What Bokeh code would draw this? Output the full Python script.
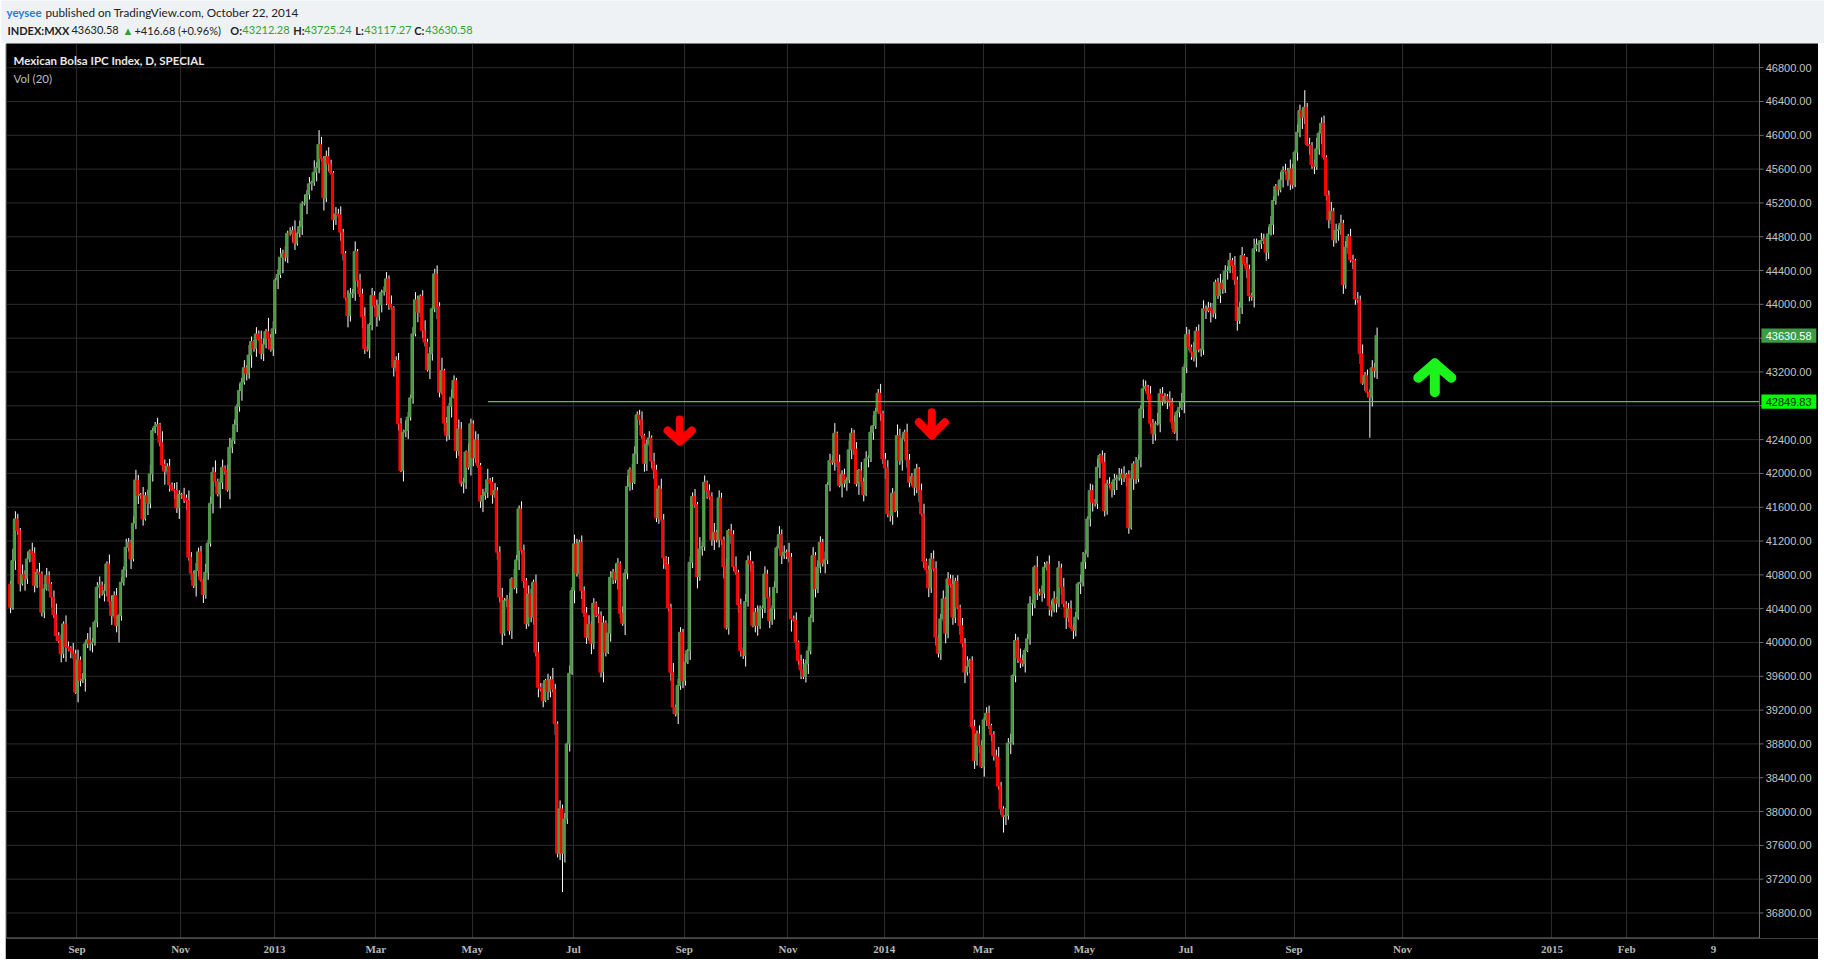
from bokeh.plotting import figure
from bokeh.models import FixedTicker, Label, Range1d, ColumnDataSource
from bokeh.layouts import column
from bokeh.embed import file_html
from bokeh.resources import INLINE
from bokeh.core.properties import value

# ---------------- data ----------------
# daily closes, Jul 2012 .. Oct 22 2014 (INDEX:MXX); each body opens at the previous close
closes = [
    40417, 40969, 41462, 41324, 40693, 40803, 40752, 40989, 41080, 41056, 40673, 40831, 40811, 40358, 40634, 40792,
    40693, 40535, 40330, 40082, 40023, 39865, 40220, 39952, 39936, 39904, 39865, 39412, 39794, 39550, 39569, 39983,
    40031, 39983, 40003, 40240, 40654, 40681, 40575, 40614, 40930, 40488, 40318, 40555, 40200, 40318, 40713, 40859,
    41127, 41186, 40989, 41411, 41923, 41738, 41750, 41462, 41738, 41647, 41994, 42507, 42558, 42578, 42369, 42105,
    42026, 42081, 41864, 41817, 41797, 41592, 41750, 41750, 41710, 41679, 41009, 40819, 40673, 40851, 41072, 40740,
    40567, 40831, 41174, 41647, 42014, 41907, 41758, 41896, 42073, 42034, 41805, 42310, 42389, 42578, 42791, 42980,
    43080, 43250, 43180, 43400, 43560, 43480, 43650, 43590, 43420, 43530, 43680, 43600, 43470,
    43711, 44290, 44353, 44558, 44606, 44558, 44842, 44834, 44874, 44724, 44842, 44921, 45189, 45197, 45300, 45426,
    45442, 45564, 45620, 45891, 45722, 45260, 45749, 45662, 45556, 45000, 45071, 45059, 44854, 44600, 44077, 43868,
    44125, 44132, 44625, 44282, 44125, 43857, 43474, 43462, 43762, 44105, 43987, 43857, 43995, 44144, 44152, 44302,
    44006, 43959, 43257, 43336, 42587, 42035, 42488, 42508, 42666, 42894, 43651, 44054, 43908, 44097, 43691, 43553,
    43226, 43415, 43947, 44361, 43975, 42961, 43218, 42595, 42449, 42792, 42902, 43100, 42271, 42528, 41885, 41897,
    42252, 42074, 42587, 42185, 42398, 42094, 41672, 41739, 41779, 41925, 41897, 41751, 41798, 41068,
    40536, 40110, 40496, 40510, 40141, 40752, 40650, 40977, 41580, 41088, 40733, 40220, 40575, 40300, 40713, 39885,
    39471, 39450, 39313, 39550, 39420, 39560,
    39451, 39037, 37507, 38032, 37507, 37913, 38800, 39636, 40614, 41166, 40819, 41186, 40614, 40350, 40062, 40212,
    39991, 40464, 40330, 40318, 39648, 40232, 39885, 40110, 40772, 40831, 40740, 40938, 40346, 40228, 40819, 41844,
    42042, 41896, 42231, 42692, 42633, 42450, 42120, 42349, 42420, 42144, 42042, 41474, 41817, 41450, 41001, 40922,
    40409, 39648, 39234, 39155, 39490, 40121, 39550, 39766, 39904, 40949, 41726, 41632, 40780, 41107, 41135, 41896,
    41800, 41726, 41214, 41304, 41214, 41710, 41214, 40898, 40173, 41324, 41277, 40898, 40831, 40449, 39904, 39845,
    40484, 40969, 40930, 40200, 40358, 40200, 40397, 40409, 40811, 40535, 40259, 40400, 40654, 41119, 41277, 41028,
    41068, 41068, 41009, 40279, 40267, 40003, 39786, 39676, 39597, 39747, 39900, 40299, 41028, 40634, 40890, 41186,
    40938, 40977, 41868, 42152, 42132, 42475, 42132, 41856,
    41987, 41884, 41924, 42279, 42476, 42290, 41876, 42034, 41900, 41750, 42172, 42184, 42488, 42566, 42736, 42949,
    42712, 42172, 42066, 41522, 41502, 41766, 41561, 42448, 42152, 42409, 42488, 42160, 41896, 41963, 41837, 42054,
    41800, 41522, 40962, 40859, 40646, 40989, 40871, 40063, 39873, 40279, 40516, 40110, 40753, 40686, 40299, 40725,
    40417, 40200, 39992, 39649, 39716, 39787, 39006, 38604, 38919, 38781, 38533, 39085, 39164, 39018, 38911, 38663,
    38643, 38300, 38032, 37941, 37953, 38809, 38820, 39609, 40023, 39818, 39787, 39755, 39905, 40043, 40457, 40457,
    40891, 40583, 40595, 40583, 40891, 40930, 40437, 40386, 40516, 40465, 40883, 40654, 40457, 40299, 40398, 40181,
    40141, 40300, 40693, 40713, 40950, 41048, 41462, 41798, 41659, 41640, 42074, 42212, 42133, 41561, 41876,
    41869, 41806, 41924, 41944, 41944, 41995, 41948, 41987, 41356, 41936, 42114, 41936, 42161, 42764, 43001, 43028,
    42942, 42595, 42468, 42587, 42587, 42942, 42863, 42910, 42871, 42843, 42607, 42488, 42725, 42780, 42843, 43257,
    43643, 43494, 43434, 43375, 43683, 43462, 43462, 43947, 43927, 43959, 43927, 43896, 44263, 44105, 44251, 44184,
    44393, 44400, 44519, 44460, 44290, 43809, 43967, 44578, 44479, 44420, 44105, 44093, 44657, 44708, 44716, 44755,
    44775, 44617, 44834, 44945, 45229, 45394, 45355, 45473, 45583, 45575, 45473, 45603, 45418, 45800, 46037, 46293,
    46214, 46333, 45891, 45879, 45654, 45631, 45840, 46025, 46143, 45741, 45288, 45000, 45102, 44763, 44874, 44882,
    44960, 44235, 44677, 44803, 44527, 44519, 44065, 44054, 43415, 43068, 43159, 42961, 42902, 43249, 43213.90, 43630.58,
]
first_open = 40690.0
last_ohlc = (43212.28, 43725.24, 43117.27, 43630.58)   # header O/H/L/C of the last bar

# wick lengths above / below the body, in tens of index points
wick_up_tens = [
    4,14,9,6,3,12,5,8,2,10,7,4,11,3,6,9,5,2,8,13,4,7,3,10,
    6,2,9,5,12,4,7,3,8,15,5,2,6,10,4,8,3,11,7,5,9,2,6,4,
    10,5,3,8,12,6,2,9,4,7,11,3,5,8,2,13,6,4,9,3,7,10,5,2,
    8,4,12,6,3,9,5,7,2,10,4,8,6,14,3,5,9,2,7,11,4,6,3,8,
    5,9,3,12,6,2,8,4,10,7,3,16,5,9,2,6,11,4,8,3,7,5,12,2,
    7,3,10,5,8,2,14,6,17,9,3,7,11,5,2,8,6,10,4,3,9,7,5,12,
    3,8,6,11,4,2,9,5,7,13,3,6,8,4,10,2,5,9,7,3,12,6,4,8,
    9,5,2,7,12,4,8,3,6,10,5,15,2,7,4,9,6,3,11,8,5,2,10,6,
    4,10,7,3,8,5,13,2,6,9,4,7,11,3,5,8,2,12,6,4,9,7,3,10,
    6,3,9,12,5,7,2,8,4,14,6,3,10,5,7,2,9,4,11,6,3,8,5,7,
    11,4,6,2,9,5,8,3,12,7,4,10,6,2,8,5,13,3,7,9,4,6,10,2,
    5,8,3,10,6,4,12,7,2,9,5,11,3,8,6,4,10,2,7,5,9,3,14,6,
    8,2,7,5,11,3,9,6,4,10,2,8,5,12,3,7,4,9,6,11,3,5,8,4,
    3,9,5,12,4,7,2,10,6,8,3,11,5,4,9,2,7,13,5,6,3,10,4,8,
    7,4,10,3,8,6,12,2,9,5,7,3,11,6,4,8,2,10,5,9,3,7,12,4,
    5,11,3,7,9,4,6,2,13,8,5,3,10,7,4,9,6,2,8,12,3,5,7,10,
    9,3,6,10,2,8,5,11,4,7,3,9,6,12,2,5,8,4,10,6,3,7,9,2,
    4,7,12,5,3,9,6,10,2,8,4,11,7,3,6,9,5,2,13,4,8,6,3,10,
    6,9,2,8,5,11,3,7,10,4,6,2,9,12,5,3,8,7,4,10,2,6,11,5,
    8,3,7,4,12,6,9,2,5,10,3,8,6,4,11,7,2,9,5,3,13,6,8,4,
    3,10,5,8,2,7,11,4,9,6,3,12,5,8,2,10,4,7,6,9,3,5,11,4,
    7,5,9,3,11,4,6,10,2,8,5,3,12,7,4,9,6,2,8,10,5,3,7,9,
    5,8,4,11,6,2,9,7,3,20,5,8,4,6,13,3,7,9,2,6,11,4,8,5,
    10,4,7,3,9,6,2,8,5,11,4,7,3,9,6,12,2,5,8,4,10,6,3,7,
]
wick_dn_tens = [
    7,3,11,5,9,2,14,6,4,10,8,3,16,5,7,2,9,12,4,6,3,10,5,18,
    4,9,6,2,12,7,3,15,5,8,10,4,6,13,2,9,7,5,11,3,8,20,6,4,
    9,5,12,3,7,10,4,8,2,14,6,9,3,11,5,7,16,4,8,2,10,6,13,5,
    6,11,4,8,3,13,7,2,10,5,9,4,12,6,3,17,8,5,2,11,7,4,9,6,
    12,3,8,6,15,4,10,2,7,9,5,13,3,8,6,11,4,19,5,7,2,10,8,3,
    5,10,2,13,6,8,4,11,7,3,15,5,9,2,12,6,4,10,8,3,14,7,5,9,
    8,4,14,6,2,10,7,3,12,5,9,4,16,7,3,11,5,8,2,13,6,10,4,7,
    3,12,6,9,5,2,11,8,4,15,6,3,10,7,5,13,2,9,6,4,12,8,3,10,
    10,6,3,8,13,5,7,2,11,4,9,6,14,3,8,5,10,2,7,12,4,9,6,3,
    6,9,5,12,3,8,2,10,7,4,13,5,8,46,11,6,9,2,15,4,7,10,5,8,
    4,13,7,3,9,6,12,5,2,10,8,4,11,6,3,14,7,5,9,2,12,6,4,10,
    9,3,8,11,5,7,2,13,6,4,10,8,3,12,5,9,6,2,11,7,4,14,5,8,
    5,10,4,7,12,3,9,6,14,2,8,11,5,3,10,7,4,13,6,9,2,8,12,4,
    11,6,2,9,5,13,7,3,10,4,8,6,15,2,9,5,11,3,7,12,4,6,10,5,
    7,4,12,5,8,3,10,6,2,14,5,9,4,11,7,3,13,6,8,2,10,5,9,4,
    3,9,6,13,4,7,11,2,8,5,12,3,9,6,4,10,7,14,2,8,5,11,6,3,
    10,5,8,3,12,6,4,9,7,2,11,5,13,4,8,3,10,6,9,2,12,7,4,8,
    6,12,4,7,19,10,5,13,3,8,6,9,4,11,2,7,14,5,8,3,10,6,4,12,
    8,3,11,5,9,4,14,6,2,10,7,3,12,5,8,4,9,11,3,6,13,2,7,5,
    4,9,6,12,3,8,5,10,7,2,13,6,4,9,11,3,7,5,12,8,2,10,6,4,
    11,5,8,2,10,6,3,13,7,4,9,5,12,3,8,6,10,2,14,5,7,4,9,6,
    5,10,3,9,6,12,4,8,2,11,7,5,13,3,9,6,4,10,8,2,12,5,7,3,
    9,4,7,12,5,3,10,6,14,8,2,11,5,9,4,7,13,3,6,10,5,8,4,12,
    6,11,5,8,3,10,7,4,12,2,9,6,48,11,8,5,14,4,7,9,6,2,10,5,
]

# time axis: bar index of the first bar of each labelled month
tick_bars = [28, 71, 110, 152, 192, 234, 280, 323, 363, 404, 446, 488, 533, 578, 640, 671, 707]
tick_labels = ["Sep", "Nov", "2013", "Mar", "May", "Jul", "Sep", "Nov", "2014",
               "Mar", "May", "Jul", "Sep", "Nov", "2015", "Feb", "9"]

price_ticks = list(range(36800, 47200, 400))
level_price = 42849.83          # horizontal support line
level_start_bar = 198.5
last_price = 43630.58

# drawn arrows: (centre bar, tail price, tip price, half width in bars, arm-end price)
down_arrows = [(278.1, 42637, 42377, 5.05, 42507), (382.7, 42724, 42448, 5.4, 42606)]
up_arrows = [(591.4, 42960, 43300, 6.85, 43131)]

# ---------------- derived OHLC ----------------
n = len(closes)
opens = [first_open] + closes[:-1]
opens[-1] = last_ohlc[0]
wu = wick_up_tens[:n]
wd = wick_dn_tens[:n]
tops = [max(o, c) for o, c in zip(opens, closes)]
bots = [min(o, c) for o, c in zip(opens, closes)]
highs = [t + 10 * u for t, u in zip(tops, wu)]
lows = [b - 10 * d for b, d in zip(bots, wd)]
highs[-1] = last_ohlc[1]
lows[-1] = last_ohlc[2]
colors = ["#4e9a47" if c >= o else "#ff0000" for o, c in zip(opens, closes)]
xs = list(range(n))

src = ColumnDataSource(dict(x=xs, xw=[x + 0.45 for x in xs], top=tops, bottom=bots,
                            high=highs, low=lows, color=colors))

BG = "#eff2f5"
FONT = "Lato"
AXFONT = "Liberation Sans"

# ---------------- header ----------------
HW, HH = 1824, 43
hdr = figure(width=HW, height=HH, x_range=Range1d(0, HW), y_range=Range1d(0, HH),
             output_backend="svg", toolbar_location=None, min_border=0,
             background_fill_color=BG, border_fill_color=BG, outline_line_color=None)
hdr.axis.visible = False
hdr.grid.visible = False

def htext(x, y, t, color="#222222", bold=False, size="11px"):
    hdr.add_layout(Label(x=x, y=y, text=t, text_color=color, text_font=FONT,
                         text_font_size=size, text_baseline="middle",
                         text_font_style="bold" if bold else "normal"))

GREEN_T = "#2fa32f"
L1, L2 = HH - 11.5, HH - 29.5
htext(5, L1, "yeysee", "#2b7bd3", True, "11.5px")
htext(44, L1, "published on TradingView.com, October 22, 2014", size="11.7px")
htext(6, L2, "INDEX:MXX", bold=True)
htext(70, L2, "43630.58")
htext(121, L2, "▲", GREEN_T)
htext(133, L2, "+416.68 (+0.96%)")
htext(229, L2, "O:", bold=True)
htext(241, L2, "43212.28", GREEN_T)
htext(292, L2, "H:", bold=True)
htext(303, L2, "43725.24", GREEN_T)
htext(354, L2, "L:", bold=True)
htext(363, L2, "43117.27", GREEN_T)
htext(413, L2, "C:", bold=True)
htext(424, L2, "43630.58", GREEN_T)

# ---------------- main chart ----------------
# the frame covers the black panel up to its right edge; the price scale is drawn inside it
X0, X1 = -1.245, 750.6
AXIS_X = 726.1                   # bar position of the price-scale line
Y0, Y1 = 36498, 47086
p = figure(frame_width=1812, frame_height=895, x_range=Range1d(X0, X1), y_range=Range1d(Y0, Y1),
           output_backend="svg", toolbar_location=None, y_axis_location=None,
           min_border_left=1, min_border_top=0, min_border_right=0, min_border_bottom=21,
           background_fill_color="#000000", border_fill_color="#000000", outline_line_color=None)
p.margin = (0, 0, 0, 5)

AX_COL = "#6e6e6e"
GRID_COL = "#2c2c2c"

p.xaxis.ticker = FixedTicker(ticks=tick_bars)
p.xaxis.major_label_overrides = {b: l for b, l in zip(tick_bars, tick_labels)}
p.xaxis.major_label_text_color = "#b8b8b8"
p.xaxis.major_label_text_font = "Liberation Sans Narrow"
p.xaxis.major_label_text_font_style = "bold"
p.xaxis.major_label_text_font_size = "11px"
p.xaxis.axis_line_color = None
p.xaxis.major_tick_line_color = None
p.xaxis.major_tick_out = 0
p.xaxis.major_tick_in = 0
p.xaxis.minor_tick_line_color = None
p.xaxis.minor_tick_out = 0
p.xaxis.major_label_standoff = 4

p.xgrid.ticker = FixedTicker(ticks=tick_bars)
p.xgrid.grid_line_color = GRID_COL
p.ygrid.visible = False

# horizontal grid up to the price scale
p.segment(x0=[X0] * len(price_ticks), y0=price_ticks, x1=[AXIS_X] * len(price_ticks), y1=price_ticks,
          line_color=GRID_COL, line_width=1)

# candles
p.segment(x0="xw", y0="low", x1="xw", y1="high", source=src, line_color="#ffffff", line_width=1)
p.vbar(x="x", width=0.85, top="top", bottom="bottom", source=src,
       fill_color="color", line_color="color", line_width=1)

# support line
p.segment(x0=[level_start_bar], y0=[level_price], x1=[AXIS_X], y1=[level_price],
          line_color="#33dd33", line_width=1.3)

# arrows
def arrow_lines(specs):
    mx, my = [], []
    for cx, tail, tip, hw, arm in specs:
        mx.append([cx, cx]); my.append([tail, tip])
        mx.append([cx - hw, cx, cx + hw]); my.append([arm, tip, arm])
    return mx, my

ax, ay = arrow_lines(down_arrows)
p.multi_line(xs=ax, ys=ay, line_color="#ff0000", line_width=8, line_cap="round", line_join="round")
gx, gy = arrow_lines(up_arrows)
p.multi_line(xs=gx, ys=gy, line_color="#1cf21c", line_width=10, line_cap="round", line_join="round")

# price scale: axis lines, tick marks and labels
p.segment(x0=[AXIS_X], y0=[Y0], x1=[AXIS_X], y1=[Y1], line_color=AX_COL, line_width=1)
p.segment(x0=[X0], y0=[Y0 + 6], x1=[AXIS_X], y1=[Y0 + 6], line_color=AX_COL, line_width=1)
p.segment(x0=[AXIS_X] * len(price_ticks), y0=price_ticks, x1=[AXIS_X + 1.7] * len(price_ticks),
          y1=price_ticks, line_color=AX_COL, line_width=1)
boxes = [last_price, level_price]
shown = [t for t in price_ticks if all(abs(t - b) > 150 for b in boxes)]
p.text(x=[AXIS_X + 2.6] * len(shown), y=shown, text=["%.2f" % t for t in shown],
       text_color="#c4c4c4", text_font=value(AXFONT), text_font_size="11px", text_baseline="middle")

# price boxes
box_fill = ["#3d9c43", "#00ff00"]
box_text = ["#ffffff", "#1a1a1a"]
p.quad(left=[AXIS_X + 0.8] * 2, right=[AXIS_X + 23.6] * 2,
       top=[b + 85 for b in boxes], bottom=[b - 85 for b in boxes],
       fill_color=box_fill, line_color=None)
p.text(x=[AXIS_X + 2.6] * 2, y=boxes, text=["%.2f" % b for b in boxes], text_color=box_text,
       text_font=value(AXFONT), text_font_size="11px", text_baseline="middle")

# legend texts
p.add_layout(Label(x=X0, y=Y1, x_offset=7, y_offset=-17, text="Mexican Bolsa IPC Index, D, SPECIAL",
                   text_color="#e8e8e8", text_font=FONT, text_font_size="11.5px",
                   text_font_style="bold", text_baseline="middle"))
p.add_layout(Label(x=X0, y=Y1, x_offset=7, y_offset=-35, text="Vol (20)",
                   text_color="#bdbdbd", text_font=FONT, text_font_size="11.5px",
                   text_baseline="middle"))

layout = column(hdr, p, spacing=0)
html = file_html(layout, INLINE, title="INDEX:MXX")
html = html.replace("<body>", '<body style="background-color:%s;">' % BG, 1)
open("out.html", "w").write(html)
